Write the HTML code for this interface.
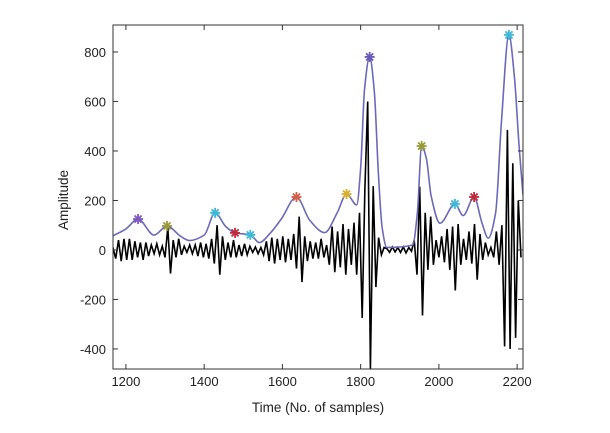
<!DOCTYPE html>
<html><head><meta charset="utf-8"><style>
body{margin:0;background:#fff;}
svg text{font-family:"Liberation Sans",sans-serif;fill:#222;}
</style></head><body>
<svg id="chart" width="610" height="428" xmlns="http://www.w3.org/2000/svg"></svg>
<script>
const xTicks=[1200,1400,1600,1800,2000,2200];
const yTicks=[-400,-200,0,200,400,600,800];
const sigStart=1167, sigStep=7;
const signalValues=[10,-35,40,-45,45,-40,45,-40,35,-30,
30,-40,30,-25,20,-15,25,-20,15,-30,
90,-95,40,-30,45,-20,15,-10,20,-15,
20,-25,30,-30,25,-35,45,-55,100,-100,
55,-40,30,-30,40,-30,20,-25,25,-20,
15,-10,12,-15,10,-20,35,-45,50,-55,
45,-40,55,-50,45,-40,65,-75,135,-130,
55,-45,35,-35,30,-35,45,-30,20,-60,
95,-90,75,-70,105,-100,85,-60,110,-100,
150,-275,250,600,-480,258,-150,50,-20,10,
5,-10,12,-8,10,-10,12,-12,10,-5,
40,-100,256,-265,150,-80,135,-60,40,-30,
55,-50,85,-80,95,-164,105,-60,45,-40,
75,-55,105,-120,65,-40,30,-20,10,-30,
75,-60,100,-390,485,-400,350,-355,200,-30];
const envX=[1167,1200,1231,1272,1305,1340,1362,1400,1428,1455,1479,1518,1541,1570,1597,1636,1670,1708,1740,1764,1790,1800,1810,1823,1835,1845,1855,1867,1933,1945,1956,1968,1980,2003,2041,2062,2090,2110,2126,2145,2160,2179,2193,2205,2215];
const envY=[57,85,125,60,97,55,38,60,150,95,69,61,30,70,125,214,120,70,150,226,182,330,650,780,640,320,90,10,20,150,420,370,220,108,186,139,214,110,48,150,520,869,700,420,222];
const peakX=[1231,1305,1428,1479,1518,1636,1764,1823,1956,2041,2090,2179];
const peakY=[125,97,150,69,61,214,226,780,420,186,214,869];
const peakColors=["#7e57c2","#9a9a3a","#3fb8d8","#c0283c","#3fb8d8","#d0604a","#d8b030","#6a5ab8","#9a9a3a","#3fb8d8","#c0283c","#3fb8d8"];

const L=113,R=523,T=25,B=369, xmin=1167,xmax=2215,ymin=-481,ymax=909;
const X=v=>L+(v-xmin)/(xmax-xmin)*(R-L);
const Y=v=>B-(v-ymin)/(ymax-ymin)*(B-T);
const svg=document.getElementById('chart');const NS="http://www.w3.org/2000/svg";
function mk(t,a,p){const e=document.createElementNS(NS,t);for(const k in a)e.setAttribute(k,a[k]);(p||svg).appendChild(e);return e;}
const defs=mk('defs',{});const cp=mk('clipPath',{id:'clip'},defs);mk('rect',{x:L,y:T,width:R-L,height:B-T},cp);
const plot=mk('g',{'clip-path':'url(#clip)'});


let d='';signalValues.forEach((v,i)=>{d+=(i?'L':'M')+X(sigStart+i*sigStep).toFixed(1)+','+Y(v).toFixed(1);});
const sig=mk('path',{d:d,fill:'none',stroke:'#000','stroke-width':1.6},plot);


// monotone cubic envelope
const px=envX.map(X),py=envY.map(Y),n=px.length;
const dx=[],sl=[];for(let i=0;i<n-1;i++){dx.push(px[i+1]-px[i]);sl.push((py[i+1]-py[i])/dx[i]);}
const m=[sl[0]];for(let i=1;i<n-1;i++){m.push(sl[i-1]*sl[i]<=0?0:3*(dx[i-1]+dx[i])/((2*dx[i]+dx[i-1])/sl[i-1]+(dx[i]+2*dx[i-1])/sl[i]));}m.push(sl[n-2]);
let e='M'+px[0]+','+py[0];
for(let i=0;i<n-1;i++){const h=dx[i]/3;e+='C'+(px[i]+h)+','+(py[i]+m[i]*h)+' '+(px[i+1]-h)+','+(py[i+1]-m[i+1]*h)+' '+px[i+1]+','+py[i+1];}
const env=mk('path',{d:e,fill:'none',stroke:'#6a6ab8','stroke-width':1.6},plot);


peakX.forEach((pk,i)=>{const cx=X(pk),cy=Y(peakY[i]);const g=mk('g',{stroke:peakColors[i],'stroke-width':1.8},plot);


for(let a=0;a<4;a++){const an=a*Math.PI/4;mk('line',{x1:cx-5*Math.cos(an),y1:cy-5*Math.sin(an),x2:cx+5*Math.cos(an),y2:cy+5*Math.sin(an)},g);}});
const frame=mk('rect',{x:L,y:T,width:R-L,height:B-T,fill:'none',stroke:'#333','stroke-width':1});


xTicks.forEach(t=>{const x=X(t);mk('line',{x1:x,y1:B,x2:x,y2:B-5,stroke:'#333'});mk('line',{x1:x,y1:T,x2:x,y2:T+5,stroke:'#333'});
const tx=mk('text',{x:x,y:B+17,'text-anchor':'middle','font-size':13});tx.textContent=t;

});
yTicks.forEach(t=>{const y=Y(t);mk('line',{x1:L,y1:y,x2:L+5,y2:y,stroke:'#333'});mk('line',{x1:R,y1:y,x2:R-5,y2:y,stroke:'#333'});
const tx=mk('text',{x:L-7,y:y+5,'text-anchor':'end','font-size':13});tx.textContent=t;

});
const xt=mk('text',{x:318,y:412,'text-anchor':'middle','font-size':13.5});xt.textContent='Time (No. of samples)';


const yt=mk('text',{x:0,y:0,'text-anchor':'middle','font-size':13.5,transform:'translate(68,200) rotate(-90)'});yt.textContent='Amplitude';


</script>
</body></html>
